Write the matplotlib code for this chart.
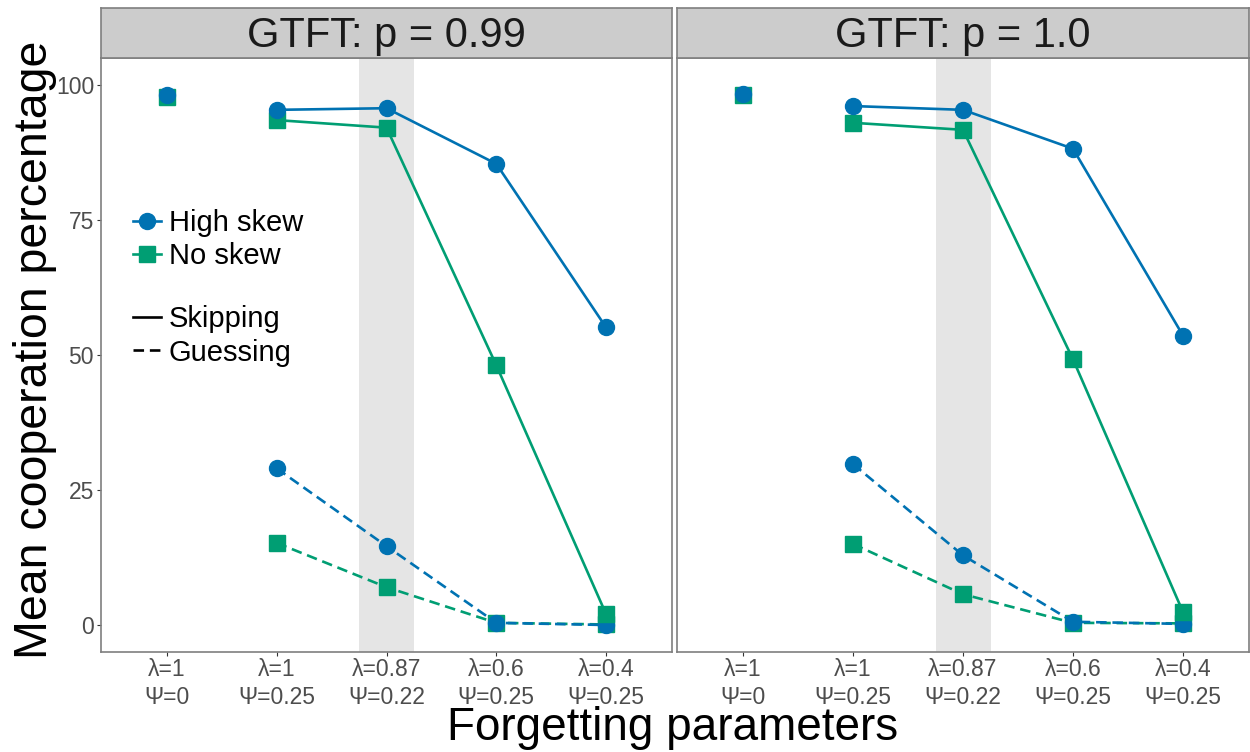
import matplotlib
matplotlib.use("Agg")
import matplotlib.pyplot as plt
from matplotlib.lines import Line2D

FONT = 'Liberation Sans'
plt.rcParams['font.family'] = [FONT, 'DejaVu Sans']

# ---------------- data ----------------
categories = ["λ=1\nΨ=0", "λ=1\nΨ=0.25", "λ=0.87\nΨ=0.22", "λ=0.6\nΨ=0.25", "λ=0.4\nΨ=0.25"]
panels = ["GTFT: p = 0.99", "GTFT: p = 1.0"]

# No-forgetting baseline (first category, not connected)
base_high = [98.2, 98.3]
base_no = [97.8, 98.2]

# Skipping (categories 2-5)
skip_high_099 = [95.4, 95.7, 85.4, 55.1]
skip_no_099 = [93.5, 92.1, 48.1, 2.0]
skip_high_100 = [96.1, 95.4, 88.2, 53.6]
skip_no_100 = [93.0, 91.7, 49.2, 2.4]

# Guessing (categories 2-5)
guess_high_099 = [29.0, 14.6, 0.4, 0.0]
guess_no_099 = [15.2, 7.0, 0.4, 0.1]
guess_high_100 = [29.8, 12.9, 0.6, 0.2]
guess_no_100 = [15.0, 5.7, 0.4, 0.3]

highlight_cat = 3  # shaded category

BLUE = "#0072B2"
GREEN = "#009E73"
BORDER = "#7F7F7F"

W, H = 1250, 752
fig = plt.figure(figsize=(W / 100, H / 100), dpi=100)

def fx(px):
    return px / W

def fy(py):
    return 1 - py / H

panel_x = [(101, 672), (677, 1249)]
top, bottom = 58, 652
strip_top = 8

data = [
    (base_high[0], base_no[0], skip_high_099, skip_no_099, guess_high_099, guess_no_099),
    (base_high[1], base_no[1], skip_high_100, skip_no_100, guess_high_100, guess_no_100),
]

xpos = list(range(1, len(categories) + 1))
xf = xpos[1:]

LW = 1.9
MS_C = 11.5
MS_S = 11.5
DASH = (0, (4, 2.2))

axes = []
for i, (x0, x1) in enumerate(panel_x):
    ax = fig.add_axes([fx(x0), fy(bottom), fx(x1 - x0), (bottom - top) / H])
    axes.append(ax)
    bh, bn, sh, sn, gh, gn = data[i]
    ax.axvspan(highlight_cat - 0.25, highlight_cat + 0.25, color="#E5E5E5", lw=0, zorder=0)
    # green first, then blue on top
    ax.plot(xf, gn, color=GREEN, lw=LW, ls=DASH, marker="s", ms=MS_S, zorder=2)
    ax.plot(xf, gh, color=BLUE, lw=LW, ls=DASH, marker="o", ms=MS_C, zorder=3)
    ax.plot(xf, sn, color=GREEN, lw=LW, ls="-", marker="s", ms=MS_S, zorder=4)
    ax.plot(xf, sh, color=BLUE, lw=LW, ls="-", marker="o", ms=MS_C, zorder=5)
    ax.plot([xpos[0]], [bn], color=GREEN, marker="s", ms=MS_S, zorder=4)
    ax.plot([xpos[0]], [bh], color=BLUE, marker="o", ms=MS_C, zorder=5)

    ax.set_xlim(0.4, 5.6)
    ax.set_ylim(-5, 105)
    ax.set_xticks(xpos)
    ax.set_xticklabels(categories, fontsize=16.5, color="#4D4D4D", linespacing=1.3)
    ax.set_yticks([0, 25, 50, 75, 100])
    if i == 0:
        ax.set_yticklabels(["0", "25", "50", "75", "100"], fontsize=16.5, color="#4D4D4D")
        ax.tick_params(axis="y", length=3, width=0.8, color="#333333", pad=2)
    else:
        ax.tick_params(axis="y", left=False, labelleft=False)
    ax.tick_params(axis="x", length=3, width=0.8, color="#333333", pad=1)
    for s in ax.spines.values():
        s.set_color(BORDER)
        s.set_linewidth(1.2)
    ax.set_facecolor("white")

    # strip
    sax = fig.add_axes([fx(x0), fy(top), fx(x1 - x0), (top - strip_top) / H])
    sax.set_facecolor("#CCCCCC")
    sax.set_xticks([])
    sax.set_yticks([])
    for s in sax.spines.values():
        s.set_color(BORDER)
        s.set_linewidth(1.2)
    sax.text(0.5, 0.45, panels[i], ha="center", va="center", fontsize=30, color="#1A1A1A",
             transform=sax.transAxes)

# legends in left panel
ax = axes[0]
h1 = Line2D([], [], color=BLUE, lw=LW, marker="o", ms=MS_C)
h2 = Line2D([], [], color=GREEN, lw=LW, marker="s", ms=MS_S)
leg_kw = dict(loc="center left", frameon=False, fontsize=21,
              handlelength=0.95, handletextpad=0.28, labelspacing=0.18,
              borderpad=0, borderaxespad=0)
leg1 = ax.legend([h1, h2], ["High skew", "No skew"],
                 bbox_to_anchor=(0.056, 0.694), **leg_kw)
ax.add_artist(leg1)
h3 = Line2D([], [], color="black", lw=LW, ls="-")
h4 = Line2D([], [], color="black", lw=LW, ls=DASH)
ax.legend([h3, h4], ["Skipping", "Guessing"],
          bbox_to_anchor=(0.056, 0.532), **leg_kw)

fig.text(fx(35), fy(350), "Mean cooperation percentage", rotation=90, ha="center", va="center",
         fontsize=33.5, color="black")
fig.text(fx(673), fy(740), "Forgetting parameters", ha="center", va="baseline",
         fontsize=33, color="black")

fig.savefig("out.png", dpi=100, facecolor="white")
